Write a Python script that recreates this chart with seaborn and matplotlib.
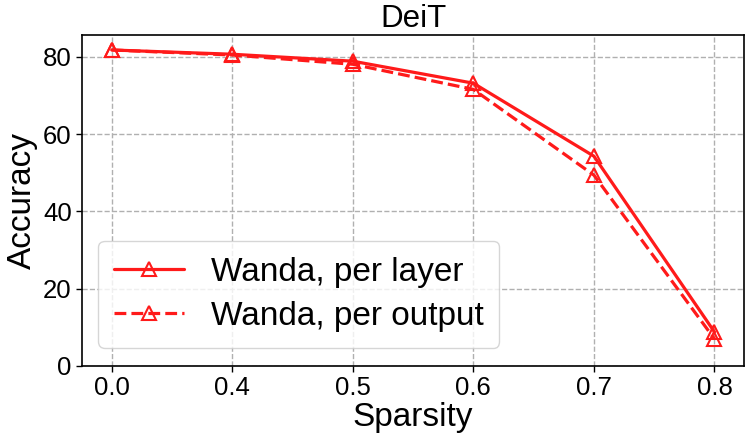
import matplotlib
matplotlib.use("Agg")
import matplotlib.pyplot as plt
import seaborn as sns
import pandas as pd

sparsity = ["0.0", "0.4", "0.5", "0.6", "0.7", "0.8"]
per_layer = [81.8, 80.7, 78.9, 73.2, 54.3, 8.8]
per_output = [81.8, 80.5, 78.1, 71.6, 49.4, 7.0]
series_names = ["Wanda, per layer", "Wanda, per output"]

sns.set_theme(style="whitegrid")
plt.rcParams['font.family'] = ['Liberation Sans', 'DejaVu Sans']
plt.rcParams['text.color'] = 'black'

df = pd.DataFrame({
    "Sparsity": sparsity * 2,
    "Accuracy": per_layer + per_output,
    "Method": [series_names[0]] * len(sparsity) + [series_names[1]] * len(sparsity),
})
df["pos"] = df["Sparsity"].map({s: i for i, s in enumerate(sparsity)})

fig, ax = plt.subplots(figsize=(7.47, 4.42), dpi=100)
fig.subplots_adjust(left=0.110, right=0.996, top=0.921, bottom=0.172)

red = "#ff1a1a"
styles = {series_names[0]: "-", series_names[1]: "--"}
for name in series_names:
    sub = df[df["Method"] == name]
    sns.lineplot(data=sub, x="pos", y="Accuracy", ax=ax, color=red,
                 linestyle=styles[name], marker="^", markersize=9.5,
                 markerfacecolor="none", markeredgecolor=red,
                 markeredgewidth=1.5, linewidth=2.3, label=name)

ax.set_xticks(range(len(sparsity)))
ax.set_xticklabels(sparsity)
ax.set_xlim(-0.245, len(sparsity) - 1 + 0.245)
ax.set_ylim(0, 85.7)
ax.set_yticks([0, 20, 40, 60, 80])
ax.tick_params(axis="both", labelsize=18.5, length=4.5, width=1, color="black",
               labelcolor="black", direction="out", left=True, bottom=True, pad=3)
ax.set_xlabel("Sparsity", fontsize=24, labelpad=1, color="black")
ax.set_ylabel("Accuracy", fontsize=24, labelpad=4, color="black")
ax.set_title("DeiT", fontsize=22.5, pad=6, color="black")
ax.set_facecolor("white")
ax.grid(True, linestyle="--", color="#b0b0b0", linewidth=1)
for sp in ax.spines.values():
    sp.set_color("black")
    sp.set_linewidth(1.2)
leg = ax.legend(loc="lower left", fontsize=24, frameon=True, handlelength=2.1,
                bbox_to_anchor=(0.024, 0.054), borderaxespad=0, handletextpad=0.8,
                labelspacing=0.4, borderpad=0.48)
leg.get_frame().set_edgecolor("#cccccc")
for t in leg.get_texts():
    t.set_color("black")
fig.savefig("out.png", dpi=100)
